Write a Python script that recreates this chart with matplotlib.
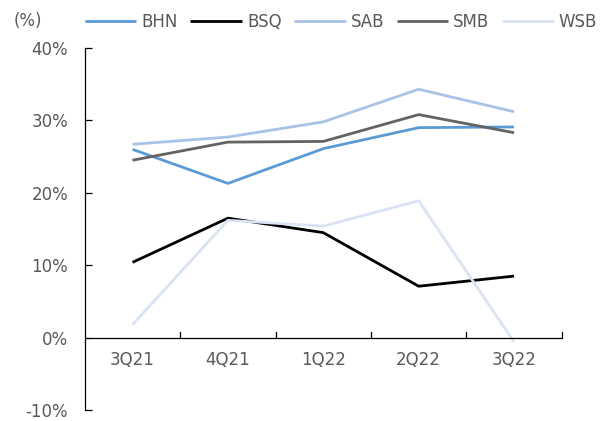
import matplotlib
matplotlib.use("Agg")
import matplotlib.pyplot as plt
import numpy as np

quarters = ["3Q21", "4Q21", "1Q22", "2Q22", "3Q22"]
bhn = [26.0, 21.3, 26.1, 29.0, 29.1]
bsq = [10.4, 16.5, 14.5, 7.1, 8.5]
sab = [26.7, 27.7, 29.8, 34.3, 31.2]
smb = [24.5, 27.0, 27.1, 30.8, 28.3]
wsb = [1.8, 16.2, 15.4, 18.9, -0.6]

names = ["BHN", "BSQ", "SAB", "SMB", "WSB"]
colors = ["#5b9bd5", "#000000", "#a9c3e8", "#636363", "#dae3f3"]
text_col = "#595959"

plt.rcParams["font.family"] = ["DejaVu Sans"]
plt.rcParams["font.size"] = 12

fig = plt.figure(figsize=(6.06, 4.21), dpi=100)
ax = fig.add_axes([0.140, 0.026, 0.787, 0.860])

x = np.arange(len(quarters))
handles = []
for vals, name, c in zip([bhn, bsq, sab, smb, wsb], names, colors):
    h, = ax.plot(x, vals, color=c, lw=2.0, label=name, solid_capstyle="butt")
    handles.append(h)

ax.set_xlim(-0.5, 4.5)
ax.set_ylim(-10, 40)
ax.set_yticks(np.arange(-10, 41, 10))
ax.set_yticklabels([f"{v}%" for v in range(-10, 41, 10)], color=text_col)

for s in ["top", "right", "bottom"]:
    ax.spines[s].set_visible(False)
ax.spines["left"].set_color("#000000")
ax.spines["left"].set_linewidth(0.9)
ax.axhline(0, color="#000000", lw=0.9, xmin=0, xmax=1)

ax.tick_params(axis="y", direction="in", length=5, width=0.9, pad=12, colors="#000000", labelcolor=text_col)
ax.set_xticks([])
# category boundary ticks on the zero line
for b in np.arange(0.5, 4.6, 1.0):
    ax.plot([b, b], [0, 0.8], color="#000000", lw=0.9, clip_on=False)
for xi, q in zip(x, quarters):
    ax.text(xi, -3.1, q, ha="center", va="center", color=text_col, fontsize=12)

fig.text(0.023, 0.950, "(%)", color=text_col, fontsize=12, va="center")
leg = fig.legend(handles=handles, labels=names, loc="center left", ncol=5,
                 bbox_to_anchor=(0.115, 0.948), frameon=False, handlelength=3.1,
                 handletextpad=0.3, columnspacing=0.75, fontsize=12)
for t in leg.get_texts():
    t.set_color(text_col)

fig.savefig("out.png", dpi=100)
